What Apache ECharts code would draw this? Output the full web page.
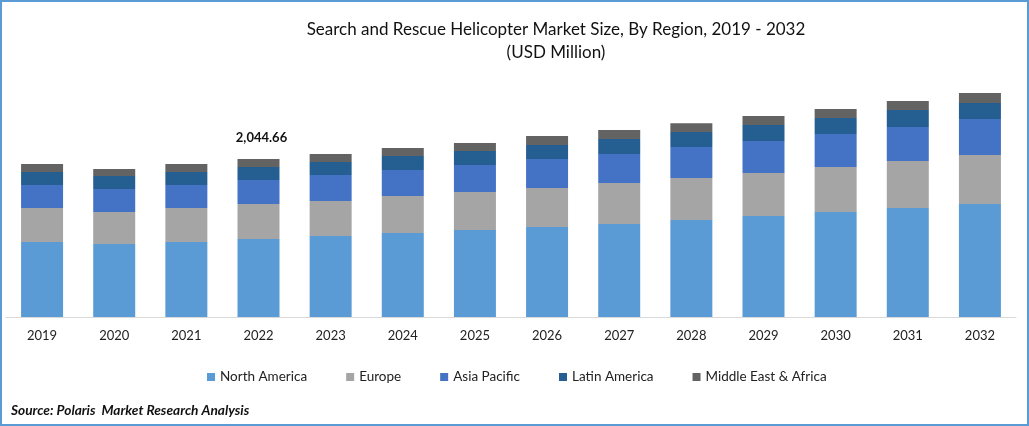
<!DOCTYPE html>
<html>
<head>
<meta charset="utf-8">
<script src="https://cdn.jsdelivr.net/npm/echarts@6/dist/echarts.min.js"></script>
<style>
  html, body { margin: 0; padding: 0; background: #fff; }
  #chart { width: 1029px; height: 426px; }
</style>
</head>
<body>
<div id="chart"></div>
<script>
var years = ['2019','2020','2021','2022','2023','2024','2025','2026','2027','2028','2029','2030','2031','2032'];
var northAmerica = [971, 945, 971, 1009, 1048, 1087, 1126, 1165, 1203, 1255, 1307, 1359, 1410, 1462];
var europe = [440, 414, 440, 453, 453, 479, 492, 505, 531, 543, 556, 582, 608, 634];
var asiaPacific = [298, 298, 298, 311, 336, 336, 349, 375, 375, 401, 414, 427, 440, 466];
var latinAmerica = [168, 168, 168, 168, 168, 181, 181, 181, 194, 194, 207, 207, 220, 207];
var middleEastAfrica = [104, 91, 104, 103.66, 104, 104, 104, 116, 116, 116, 116, 116, 116, 129];
var calloutYear = '2022';
var calloutText = '2,044.66';

var font = 'Lato';
var chart = echarts.init(document.getElementById('chart'));

function bar(name, data, color) {
  return {
    type: 'bar',
    name: name,
    stack: 'total',
    data: data,
    barWidth: 42,
    itemStyle: { color: color },
    emphasis: { disabled: true }
  };
}

var series = [
  bar('North America', northAmerica, '#5B9BD5'),
  bar('Europe', europe, '#A5A5A5'),
  bar('Asia Pacific', asiaPacific, '#4472C4'),
  bar('Latin America', latinAmerica, '#255E91'),
  bar('Middle East & Africa', middleEastAfrica, '#636363')
];

// only the 2022 total is printed
series[4].label = {
  show: true,
  position: 'top',
  offset: [3, -10],
  fontFamily: font,
  fontSize: 13,
  fontWeight: 'bold',
  color: '#111',
  formatter: function(p) {
    return p.name === calloutYear ? calloutText : '';
  }
};

chart.setOption({
  animation: false,
  backgroundColor: '#fff',
  title: [{
    text: 'Search and Rescue Helicopter Market Size, By Region, 2019 - 2032\n(USD Million)',
    left: 551,
    top: 13,
    textAlign: 'center',
    textStyle: { fontFamily: font, fontSize: 17, fontWeight: 'normal', color: '#111', lineHeight: 23 }
  }, {
    text: 'Source: Polaris  Market Research Analysis',
    left: 6,
    top: 399,
    textStyle: { fontFamily: font, fontSize: 13.7, fontWeight: 'bold', fontStyle: 'italic', color: '#111' }
  }],
  legend: {
    left: 202,
    top: 365,
    itemWidth: 8,
    itemHeight: 8,
    itemGap: 39,
    icon: 'rect',
    textStyle: { fontFamily: font, fontSize: 13.5, color: '#222' }
  },
  grid: { left: 6, right: 13, top: 85.2, bottom: 109 },
  xAxis: {
    type: 'category',
    data: years,
    axisLine: { lineStyle: { color: '#D9D9D9', width: 1 } },
    axisTick: { show: false },
    axisLabel: { fontFamily: font, fontSize: 13, color: '#222', margin: 12 }
  },
  yAxis: { type: 'value', min: 0, max: 3000, show: false },
  series: series,
  graphic: [{
    type: 'rect',
    shape: { x: 1, y: 1, width: 1027, height: 424 },
    style: { fill: 'none', stroke: '#5B9BD5', lineWidth: 2 },
    silent: true
  }]
});
</script>
</body>
</html>
